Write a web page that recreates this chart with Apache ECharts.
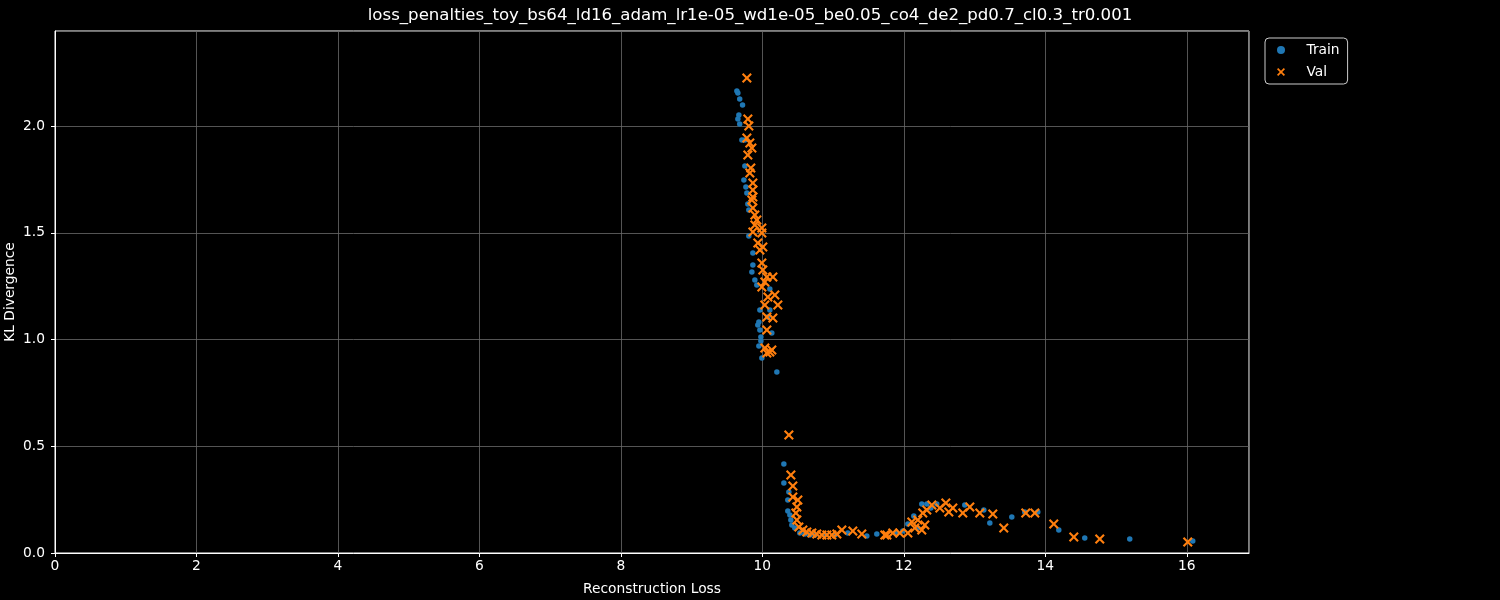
<html>
<head>
<meta charset="utf-8" />
<title>KL vs reconstruction</title>
<script src="https://cdn.jsdelivr.net/npm/echarts@6/dist/echarts.min.js"></script>
<style type="text/css">
html, body { margin: 0; padding: 0; background: #000; }
#chart { width: 1500px; height: 600px; }
</style>
</head>
<body>
<div id="chart"></div>
<script type="text/javascript">
var chart = echarts.init(document.getElementById('chart'));

var chartTitle = 'loss_penalties_toy_bs64_ld16_adam_lr1e-05_wd1e-05_be0.05_co4_de2_pd0.7_cl0.3_tr0.001';
var seriesNames = ['Train', 'Val'];

// train points (reconstruction loss, kl divergence)
var trainX = [9.640, 9.654, 9.680, 9.720, 9.668, 9.654, 9.680, 9.711, 9.753, 9.753,
    9.739, 9.767, 9.781, 9.795, 9.809, 9.809, 9.866, 9.866, 9.852, 9.894,
    9.922, 10.106, 9.965, 10.106, 10.078, 9.951, 9.965, 9.979, 10.134, 9.951,
    9.993, 10.205, 9.936, 9.979,
    10.304, 10.304, 10.375, 10.360, 10.360, 10.389, 10.403, 10.417, 10.459, 10.530,
    10.601, 10.671, 10.742, 10.883, 11.025, 11.208, 11.477, 11.618, 11.887, 11.986,
    12.057, 12.141, 12.198, 12.254, 12.325, 12.382, 12.466, 12.862, 13.131, 13.216,
    13.527, 13.710, 13.894, 14.191, 14.558, 15.194, 16.085];
var trainY = [2.164, 2.155, 2.126, 2.098, 2.052, 2.033, 2.009, 1.934, 1.934, 1.813,
    1.747, 1.714, 1.686, 1.635, 1.607, 1.485, 1.405, 1.349, 1.316, 1.279,
    1.255, 1.237, 1.138, 1.138, 1.105, 1.082, 1.044, 1.012, 1.030, 0.970,
    0.913, 0.848, 1.068, 0.993,
    0.417, 0.328, 0.286, 0.248, 0.197, 0.178, 0.155, 0.131, 0.117, 0.094,
    0.089, 0.084, 0.084, 0.084, 0.084, 0.094, 0.080, 0.089, 0.094, 0.103,
    0.136, 0.173, 0.117, 0.230, 0.230, 0.211, 0.230, 0.225, 0.201, 0.141,
    0.169, 0.192, 0.192, 0.108, 0.070, 0.066, 0.056];

// val points
var valX = [9.781, 9.795, 9.809, 9.781, 9.823, 9.852, 9.795, 9.837, 9.823, 9.866,
    9.866, 9.866, 9.852, 9.866, 9.894, 9.922, 9.894, 9.993, 9.866, 9.993,
    9.936, 10.007, 9.965, 9.993, 10.007, 10.064, 10.149, 9.993, 10.035, 10.078,
    10.177, 10.219, 10.035, 10.064, 10.149, 10.064, 10.035, 10.106, 10.064, 10.134,
    10.375, 10.403, 10.431, 10.431, 10.502, 10.488, 10.474, 10.488, 10.516, 10.573,
    10.629, 10.700, 10.770, 10.841, 10.912, 10.982, 11.053, 11.124, 11.279, 11.406,
    11.731, 11.760, 11.844, 11.943, 12.057, 12.113, 12.155, 12.198, 12.254, 12.268,
    12.297, 12.325, 12.396, 12.509, 12.594, 12.693, 12.636, 12.834, 12.933, 13.074,
    13.258, 13.413, 13.724, 13.852, 14.120, 14.403, 14.770, 16.014];
var valY = [2.225, 2.033, 2.000, 1.944, 1.920, 1.897, 1.864, 1.803, 1.780, 1.733,
    1.700, 1.667, 1.653, 1.616, 1.583, 1.560, 1.536, 1.522, 1.504, 1.499,
    1.452, 1.433, 1.419, 1.358, 1.326, 1.293, 1.293, 1.246, 1.269, 1.199,
    1.208, 1.162, 1.162, 1.105, 1.101, 1.044, 0.960, 0.941, 0.937, 0.951,
    0.553, 0.365, 0.314, 0.262, 0.248, 0.215, 0.187, 0.155, 0.122, 0.108,
    0.098, 0.094, 0.089, 0.084, 0.084, 0.084, 0.089, 0.108, 0.103, 0.089,
    0.084, 0.084, 0.094, 0.094, 0.094, 0.145, 0.117, 0.155, 0.108, 0.187,
    0.131, 0.201, 0.225, 0.211, 0.234, 0.211, 0.192, 0.187, 0.215, 0.187,
    0.183, 0.117, 0.187, 0.187, 0.136, 0.075, 0.066, 0.052];

var xTicks = [0, 2, 4, 6, 8, 10, 12, 14, 16];
var yTicks = [0, 0.5, 1.0, 1.5, 2.0];

function zip(xs, ys) {
    return xs.map(function (x, i) { return [x, ys[i]]; });
}

// matplotlib 'x' marker as a filled outline
var crossPath = 'path://M0,1.5L1.5,0L5,3.5L8.5,0L10,1.5L6.5,5L10,8.5L8.5,10L5,6.5L1.5,10L0,8.5L3.5,5Z';
var font = 'DejaVu Sans';

var option = {
    backgroundColor: '#000',
    animation: false,
    title: {
        text: chartTitle,
        left: 745,
        textAlign: 'center',
        top: 2,
        textStyle: { color: '#fff', fontFamily: font, fontSize: 16.6, fontWeight: 'normal' }
    },
    legend: {
        orient: 'vertical',
        left: 1265,
        top: 38,
        padding: [5, 8, 5, 12],
        itemGap: 8,
        itemWidth: 41,
        itemHeight: 8,
        borderColor: '#ccc',
        borderWidth: 1,
        borderRadius: 4,
        backgroundColor: '#000',
        textStyle: { color: '#fff', fontFamily: font, fontSize: 13.8, lineHeight: 14 },
        data: seriesNames
    },
    grid: {
        left: 55, right: 251, top: 31, bottom: 47,
        outerBoundsMode: 'none',
        show: true,
        borderColor: '#fff',
        borderWidth: 1,
        containLabel: false
    },
    xAxis: {
        type: 'value',
        min: 0,
        max: 16.88,
        interval: 2,
        name: 'Reconstruction Loss',
        nameLocation: 'middle',
        nameGap: 29,
        nameMoveOverlap: false,
        nameTextStyle: { color: '#fff', fontFamily: font, fontSize: 13.8 },
        axisLine: { lineStyle: { color: '#fff' } },
        axisTick: { show: true, length: 4, lineStyle: { color: '#fff' } },
        axisLabel: {
            color: '#fff', fontFamily: font, fontSize: 13.8, margin: 6,
            showMaxLabel: false,
            formatter: function (v) { return xTicks.indexOf(v) >= 0 ? String(v) : ''; }
        },
        splitLine: { show: true, lineStyle: { color: '#6a6a6a', width: 0.8 } }
    },
    yAxis: {
        type: 'value',
        min: 0,
        max: 2.445,
        interval: 0.5,
        name: 'KL Divergence',
        nameLocation: 'middle',
        nameGap: 38,
        nameMoveOverlap: false,
        nameTextStyle: { color: '#fff', fontFamily: font, fontSize: 13.8 },
        axisLine: { show: true, lineStyle: { color: '#fff' } },
        axisTick: { show: true, length: 4, lineStyle: { color: '#fff' } },
        axisLabel: {
            color: '#fff', fontFamily: font, fontSize: 13.8, margin: 10,
            showMaxLabel: false,
            formatter: function (v) {
                return yTicks.indexOf(v) >= 0 ? v.toFixed(1) : '';
            }
        },
        splitLine: { show: true, lineStyle: { color: '#6a6a6a', width: 0.8 } }
    },
    series: [{
        name: seriesNames[0],
        type: 'scatter',
        symbol: 'circle',
        symbolSize: 5.5,
        itemStyle: { color: '#1f77b4', opacity: 1 },
        data: zip(trainX, trainY)
    }, {
        name: seriesNames[1],
        type: 'scatter',
        symbol: crossPath,
        symbolSize: 10,
        itemStyle: { color: '#ff7f0e', opacity: 1 },
        data: zip(valX, valY)
    }]
};

chart.setOption(option);
</script>
</body>
</html>
